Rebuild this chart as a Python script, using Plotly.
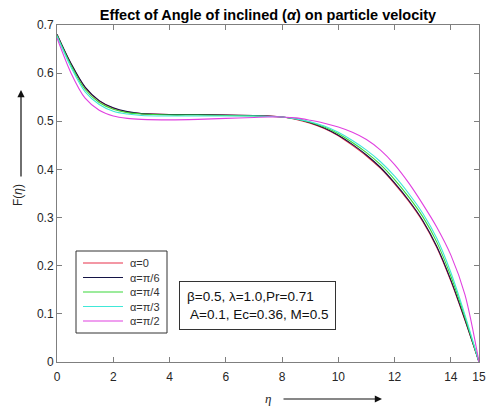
import plotly.graph_objects as go

eta = [0, 0.5, 1, 1.5, 2, 2.5, 3, 4, 5, 6, 7, 7.5, 8, 8.5, 9, 9.5, 10,
       10.5, 11, 11.5, 12, 12.5, 13, 13.5, 14, 14.5, 15]

f_alpha0 = [0.680, 0.619, 0.570, 0.542, 0.527, 0.519, 0.516, 0.514, 0.514, 0.513, 0.512,
            0.511, 0.509, 0.504, 0.496, 0.485, 0.470, 0.450, 0.428, 0.402, 0.370, 0.334,
            0.292, 0.238, 0.168, 0.087, 0.0]
f_alpha_pi6 = [0.681, 0.620, 0.571, 0.543, 0.528, 0.520, 0.516, 0.514, 0.514, 0.513, 0.512,
               0.511, 0.509, 0.505, 0.497, 0.486, 0.471, 0.452, 0.430, 0.404, 0.372, 0.336,
               0.294, 0.240, 0.170, 0.088, 0.0]
f_alpha_pi4 = [0.679, 0.616, 0.566, 0.539, 0.525, 0.518, 0.515, 0.513, 0.513, 0.512, 0.511,
               0.510, 0.509, 0.505, 0.498, 0.488, 0.474, 0.456, 0.435, 0.410, 0.379, 0.343,
               0.302, 0.249, 0.178, 0.093, 0.0]
f_alpha_pi3 = [0.677, 0.612, 0.561, 0.535, 0.521, 0.515, 0.512, 0.511, 0.511, 0.511, 0.511,
               0.510, 0.509, 0.505, 0.499, 0.490, 0.477, 0.460, 0.440, 0.416, 0.386, 0.350,
               0.309, 0.257, 0.186, 0.098, 0.0]
f_alpha_pi2 = [0.673, 0.600, 0.548, 0.523, 0.511, 0.506, 0.504, 0.503, 0.504, 0.506, 0.508,
               0.509, 0.509, 0.507, 0.502, 0.496, 0.488, 0.477, 0.462, 0.440, 0.410, 0.372,
               0.328, 0.280, 0.222, 0.140, 0.0]

series_names = ["α=0", "α=π/6", "α=π/4", "α=π/3", "α=π/2"]
series_values = [f_alpha0, f_alpha_pi6, f_alpha_pi4, f_alpha_pi3, f_alpha_pi2]
series_colors = ["#e8304a", "#141446", "#3ad83a", "#40e8d8", "#e040e0"]

x_tickvals = [0, 2, 4, 6, 8, 10, 12, 14, 15]
y_tickvals = [0, 0.1, 0.2, 0.3, 0.4, 0.5, 0.6, 0.7]
y_ticktext = ["0", "0.1", "0.2", "0.3", "0.4", "0.5", "0.6", "0.7"]

fig = go.Figure()
for name, vals, col in zip(series_names, series_values, series_colors):
    fig.add_trace(go.Scatter(x=eta, y=vals, mode="lines", name=name, showlegend=False,
                             line=dict(color=col, width=1.1, shape="spline", smoothing=0.9)))

axis_common = dict(showline=True, linecolor="#7f7f7f", linewidth=1, mirror="ticks",
                   ticks="inside", ticklen=5, tickcolor="#7f7f7f", showgrid=False,
                   zeroline=False, automargin=False,
                   tickfont=dict(family="Arial", size=12, color="#262626"))

fig.update_layout(
    width=489, height=409,
    margin=dict(l=57, r=10, t=25, b=47, autoexpand=False),
    paper_bgcolor="white", plot_bgcolor="white",
    title=dict(text="<b>Effect of Angle of inclined (<i>α</i>) on particle velocity</b>",
               x=0.548, xanchor="center", y=0.963, yanchor="middle",
               font=dict(family="Arial", size=14.5, color="#000000")),
    xaxis=dict(range=[0, 15], tickvals=x_tickvals, ticklabelstandoff=4, **axis_common),
    yaxis=dict(range=[0, 0.7], tickvals=y_tickvals, ticktext=y_ticktext, **axis_common),
    showlegend=False,
)

# manual legend (layout only)
def px_x(p):
    return (p - 57) / 422.0

def px_y(p):
    return (362 - p) / 337.0

shapes = [dict(type="rect", xref="paper", yref="paper", x0=px_x(76), x1=px_x(167),
               y0=px_y(333), y1=px_y(251), line=dict(color="#333333", width=1),
               fillcolor="white", layer="above")]
annotations = []
for i, (name, col) in enumerate(zip(series_names, series_colors)):
    yy = px_y(263 + 14.5 * i)
    shapes.append(dict(type="line", xref="paper", yref="paper", x0=px_x(83), x1=px_x(123),
                       y0=yy, y1=yy, line=dict(color=col, width=1.1), layer="above"))
    annotations.append(dict(text=name, xref="paper", yref="paper", x=px_x(128), y=yy,
                            xanchor="left", yanchor="middle", showarrow=False,
                            font=dict(family="Arial", size=11, color="#333333")))

annotations += [
    dict(text="β=0.5, λ=1.0,Pr=0.71<br> A=0.1, Ec=0.36, M=0.5", xref="paper", yref="paper",
         x=px_x(257), y=px_y(305), xanchor="center", yanchor="middle", showarrow=False,
         align="left", font=dict(family="Arial", size=13.5, color="#111111"),
         bordercolor="#333333", borderwidth=1, borderpad=7, bgcolor="white"),
    dict(text="F(<i>η</i>)", xref="paper", yref="paper", x=px_x(18), y=px_y(195),
         xanchor="center", yanchor="middle", showarrow=False, textangle=-90,
         font=dict(family="Arial", size=12, color="#262626")),
    dict(text="", xref="paper", yref="paper", x=px_x(21), y=px_y(90), ax=0, ay=88,
         showarrow=True, arrowhead=2, arrowsize=1.2, arrowwidth=1.2, arrowcolor="#111111"),
    dict(text="<i>η</i>", xref="paper", yref="paper", x=px_x(268), y=px_y(399),
         xanchor="center", yanchor="middle", showarrow=False,
         font=dict(family="Times New Roman", size=13, color="#262626")),
    dict(text="", xref="paper", yref="paper", x=px_x(382), y=px_y(399), ax=-100, ay=0,
         showarrow=True, arrowhead=2, arrowsize=1.2, arrowwidth=1.2, arrowcolor="#111111"),
]
fig.update_layout(shapes=shapes, annotations=annotations)

fig.write_html("out.html")
